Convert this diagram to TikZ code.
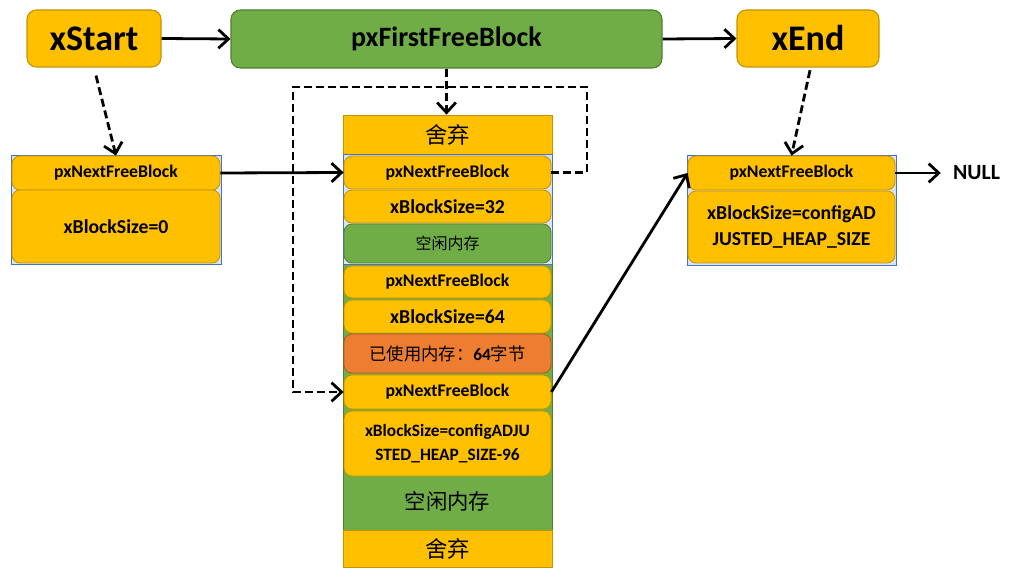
\documentclass[tikz,border=0pt]{standalone}
\usepackage{fontspec}
\setmainfont{Carlito}
\newfontfamily\cjk{Noto Sans CJK SC}
\usetikzlibrary{arrows.meta}
\definecolor{gold}{HTML}{FFC000}
\definecolor{goldline}{HTML}{C49400}
\definecolor{grn}{HTML}{70AD47}
\definecolor{grnline}{HTML}{507E32}
\definecolor{org}{HTML}{ED7D31}
\definecolor{orgline}{HTML}{AE5A21}
\definecolor{blu}{HTML}{4472C4}
\definecolor{lblu}{HTML}{DAE3F3}
\tikzset{
  topbox/.style={draw=goldline, fill=gold, line width=0.8pt, rounded corners=7pt, inner sep=0pt, font=\bfseries\fontsize{27}{31}\selectfont},
  ffbox/.style={draw=grnline, fill=grn, line width=0.8pt, rounded corners=7pt, inner sep=0pt, font=\bfseries\fontsize{21}{25}\selectfont},
  field/.style={draw=goldline, fill=gold, line width=0.6pt, rounded corners=6pt, inner sep=0pt, align=center, font=\bfseries\fontsize{13.3}{17}\selectfont},
  sizef/.style={font=\bfseries\fontsize{14.8}{19.5}\selectfont},
  gfield/.style={field, draw=grnline, fill=grn, font=\cjk\fontsize{12}{14}\selectfont},
  ofield/.style={field, draw=orgline, fill=org, font=\fontsize{13}{15}\selectfont},
  plain/.style={draw=goldline, fill=gold, line width=0.6pt, inner sep=0pt, font=\cjk\fontsize{16.8}{19}\selectfont},
  outer/.style={draw=blu, line width=0.7pt, fill=lblu},
  arr/.style={draw=black, line width=2.1pt, -{Straight Barb[length=7.5pt,width=14pt,line width=2.1pt]}},
  darr/.style={arr, dash pattern=on 6pt off 3pt},
  lbl/.style={inner sep=0pt, font=\bfseries\fontsize{16.3}{19}\selectfont}
}
\begin{document}
\begin{tikzpicture}[x=0.75pt,y=-0.75pt]
\useasboundingbox[fill=white] (0,0) rectangle (1011,581);
% top row
\node[topbox, minimum width=100.5pt, minimum height=42.75pt] (xs) at (94,38.5) {xStart};
\node[ffbox, minimum width=323.25pt, minimum height=43.5pt] (ffb) at (446.5,39) {pxFirstFreeBlock};
\node[topbox, minimum width=106.5pt, minimum height=42.75pt] (xe) at (808,38.5) {xEnd};
% left block
\draw[outer] (11,155) rectangle (221,264);
\node[field, minimum width=156pt, minimum height=25.5pt] (ln) at (116,173) {pxNextFreeBlock};
\node[field, sizef, minimum width=156pt, minimum height=54.75pt] (lb) at (116,226.5) {xBlockSize=0};
% middle column
\draw[draw=grnline, fill=grn, line width=0.6pt] (343,154) rectangle (552,530);
\node[plain, minimum width=156.75pt, minimum height=29.25pt] (d1) at (447.5,134.5) {舍弃};
\draw[outer] (343,154) rectangle (552,264);
\node[field, minimum width=155.25pt, minimum height=24.75pt] (m1n) at (447.5,172.5) {pxNextFreeBlock};
\node[field, sizef, minimum width=155.25pt, minimum height=24.75pt] (m1b) at (447.5,206.5) {xBlockSize=32};
\node[gfield, minimum width=155.25pt, minimum height=29.25pt] (m1f) at (447.5,243.5) {空闲内存};
\node[field, minimum width=155.25pt, minimum height=24pt] (m2n) at (447.5,282) {pxNextFreeBlock};
\node[field, sizef, minimum width=155.25pt, minimum height=24.75pt] (m2b) at (447.5,316.5) {xBlockSize=64};
\node[ofield, minimum width=155.25pt, minimum height=29.25pt] (m2u) at (447.5,353.5) {{\cjk 已使用内存：}\textbf{64}{\cjk 字节}};
\node[field, minimum width=155.25pt, minimum height=25.5pt] (m3n) at (447.5,392) {pxNextFreeBlock};
\node[field, minimum width=155.25pt, minimum height=48.75pt, font=\bfseries\fontsize{13}{18.5}\selectfont] (m3b) at (447.5,443.5) {xBlockSize=configADJU\\STED\_HEAP\_SIZE-96};
\node[inner sep=0pt, font=\cjk\fontsize{16}{19}\selectfont] (m3f) at (447.5,501) {空闲内存};
\node[plain, minimum width=156.75pt, minimum height=27.75pt] (d2) at (447.5,548.5) {舍弃};
% right block
\draw[outer] (687,155) rectangle (896,265);
\node[field, minimum width=155.25pt, minimum height=25.5pt] (rn) at (791.5,173) {pxNextFreeBlock};
\node[field, sizef, minimum width=155.25pt, minimum height=54pt] (rb) at (791.5,227) {xBlockSize=configAD\\JUSTED\_HEAP\_SIZE};
\node[lbl] (null) at (976.5,173) {NULL};
% connectors
\draw[arr] (xs.east) -- (ffb.west);
\draw[arr] (ffb.east) -- (xe.west);
\draw[darr] ([xshift=1.5pt,yshift=-6pt]xs.south) -- (ln.north);
\draw[darr] ([xshift=1.5pt,yshift=-2pt]xe.south) -- (rn.north);
\draw[darr] (ffb.south) -- (ffb.south |- d1.north);
\coordinate (loopTR) at (587,87);
\coordinate (loopTL) at (293,87);
\draw[darr] (m1n.east) -| (loopTR) -- (loopTL) |- (m3n.west);
\draw[arr] (ln.east) -- (m1n.west);
\draw[arr] (m3n.east) -- (rn.west);
\draw[arr] (rn.east) -- ([xshift=-9pt]null.west);
\end{tikzpicture}
\end{document}
